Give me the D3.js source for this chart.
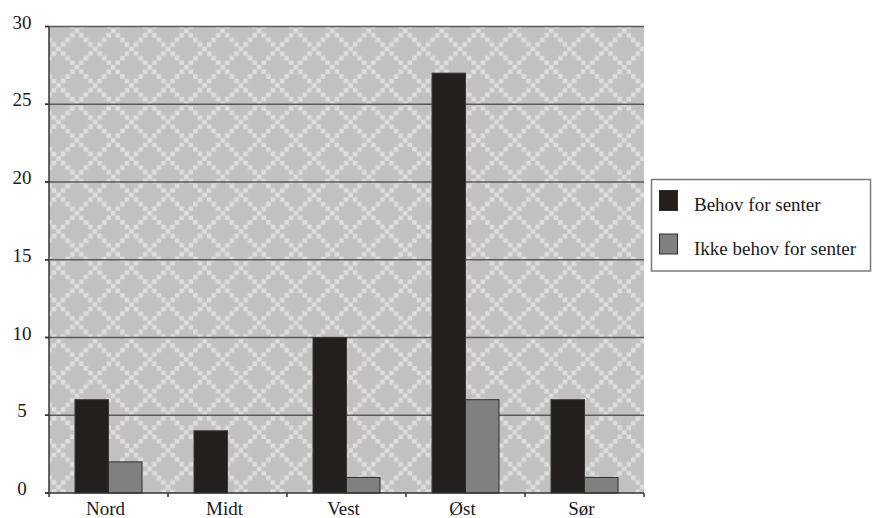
<!DOCTYPE html>
<html>
<head>
<meta charset="utf-8">
<script src="https://cdn.jsdelivr.net/npm/d3@7"></script>
<style>
  html, body { margin: 0; padding: 0; background: #ffffff; }
  svg { display: block; }
</style>
</head>
<body>
<svg id="chart" width="872" height="518"></svg>
<script>
const categories = ["Nord", "Midt", "Vest", "Øst", "Sør"];
const seriesNames = ["Behov for senter", "Ikke behov for senter"];
const behovValues = [6, 4, 10, 27, 6];
const ikkeBehovValues = [2, 0, 1, 6, 1];
const yTicks = [0, 5, 10, 15, 20, 25, 30];
const seriesColors = ["#221f1c", "#808080"];

(function () {
const FONT = "'Liberation Serif', 'Times New Roman', Times, serif";
const svg = d3.select("#chart").attr("font-family", FONT);
const pLeft = 49, pRight = 644, pTop = 26.5, pBottom = 493;

const x0 = d3.scaleBand().domain(categories).range([pLeft, pRight]).padding(0);
const x1 = d3.scaleBand().domain(seriesNames).range([26, 93]).padding(0);
const y = d3.scaleLinear().domain([0, 30]).range([pBottom, pTop]);

// pattern: scaled 8x8 "outlined diamond"
const bits = [
  "10000010",
  "01000100",
  "00101000",
  "00010000",
  "00101000",
  "01000100",
  "10000010",
  "00000001"
];
const P = 36.5, s = P / 8;
const defs = svg.append("defs");
const pat = defs.append("pattern")
  .attr("id", "diamond")
  .attr("patternUnits", "userSpaceOnUse")
  .attr("width", P).attr("height", P)
  .attr("x", pLeft + 11.8).attr("y", pTop - 11.7);
pat.append("rect").attr("width", P).attr("height", P).attr("fill", "#c2c1bf");
bits.forEach((row, r) => {
  row.split("").forEach((b, c) => {
    if (b === "1") {
      pat.append("rect")
        .attr("x", c * s).attr("y", r * s)
        .attr("width", s).attr("height", s)
        .attr("fill", "#dededc");
    }
  });
});

// plot background
svg.append("rect")
  .attr("x", pLeft).attr("y", pTop)
  .attr("width", pRight - pLeft).attr("height", pBottom - pTop)
  .attr("fill", "url(#diamond)");

// gridlines
svg.append("g").selectAll("line")
  .data(yTicks.filter(d => d > 0))
  .join("line")
  .attr("x1", pLeft - 4).attr("x2", pRight)
  .attr("y1", d => y(d)).attr("y2", d => y(d))
  .attr("stroke", "#5a5a5a").attr("stroke-width", 1.5);

// bars
const groups = svg.append("g").selectAll("g")
  .data(categories.map((c, i) => ({ c, vals: [behovValues[i], ikkeBehovValues[i]] })))
  .join("g")
  .attr("transform", d => `translate(${x0(d.c)},0)`);

groups.selectAll("rect")
  .data(d => d.vals.map((v, j) => ({ v, s: seriesNames[j], j })))
  .join("rect")
  .attr("x", d => x1(d.s))
  .attr("width", x1.bandwidth())
  .attr("y", d => y(d.v))
  .attr("height", d => y(0) - y(d.v))
  .attr("fill", d => seriesColors[d.j])
  .attr("stroke", d => d.j === 0 ? "#3a3835" : "#2e2e2e")
  .attr("stroke-width", 1);

// y axis
const yAxisG = svg.append("g");
yAxisG.append("line")
  .attr("x1", pLeft).attr("x2", pLeft).attr("y1", pTop).attr("y2", pBottom)
  .attr("stroke", "#333").attr("stroke-width", 1.5);
yAxisG.selectAll("line.tick")
  .data(yTicks)
  .join("line").attr("class", "tick")
  .attr("x1", pLeft - 4).attr("x2", pLeft)
  .attr("y1", d => y(d)).attr("y2", d => y(d))
  .attr("stroke", "#333").attr("stroke-width", 1.5);
yAxisG.selectAll("text")
  .data(yTicks)
  .join("text")
  .attr("x", 22)
  .attr("y", d => y(d) + 2)
  .attr("text-anchor", "middle")
  .attr("font-size", 19)
  .attr("fill", "#1a1a1a")
  .text(d => d);

// x axis
const xAxisG = svg.append("g");
xAxisG.append("line")
  .attr("x1", pLeft - 4).attr("x2", pRight).attr("y1", pBottom).attr("y2", pBottom)
  .attr("stroke", "#333").attr("stroke-width", 1.5);
const boundaries = categories.map(c => x0(c)).concat([x0(categories[categories.length - 1]) + x0.bandwidth()]);
xAxisG.selectAll("line.tick")
  .data(boundaries)
  .join("line").attr("class", "tick")
  .attr("x1", d => d).attr("x2", d => d)
  .attr("y1", pBottom).attr("y2", pBottom + 4)
  .attr("stroke", "#333").attr("stroke-width", 1.5);
xAxisG.selectAll("text")
  .data(categories)
  .join("text")
  .attr("x", d => x0(d) + x0.bandwidth() / 2 - 3)
  .attr("y", 515)
  .attr("text-anchor", "middle")
  .attr("font-size", 19)
  .attr("fill", "#1a1a1a")
  .text(d => d);

// legend
const lg = svg.append("g");
lg.append("rect")
  .attr("x", 651.5).attr("y", 179.5).attr("width", 219).attr("height", 91.5)
  .attr("fill", "#ffffff").attr("stroke", "#7a7a7a").attr("stroke-width", 1.5);
const items = lg.selectAll("g.item")
  .data(seriesNames)
  .join("g").attr("class", "item")
  .attr("transform", (d, i) => `translate(0,${i * 43.5})`);
items.append("rect")
  .attr("x", 659.5).attr("y", 190.5).attr("width", 18).attr("height", 20)
  .attr("fill", (d, i) => seriesColors[i])
  .attr("stroke", "#2e2e2e").attr("stroke-width", 1);
items.append("text")
  .attr("x", 694).attr("y", 211)
  .attr("font-size", 19)
  .attr("fill", "#1a1a1a")
  .text(d => d);
})();
</script>
</body>
</html>
